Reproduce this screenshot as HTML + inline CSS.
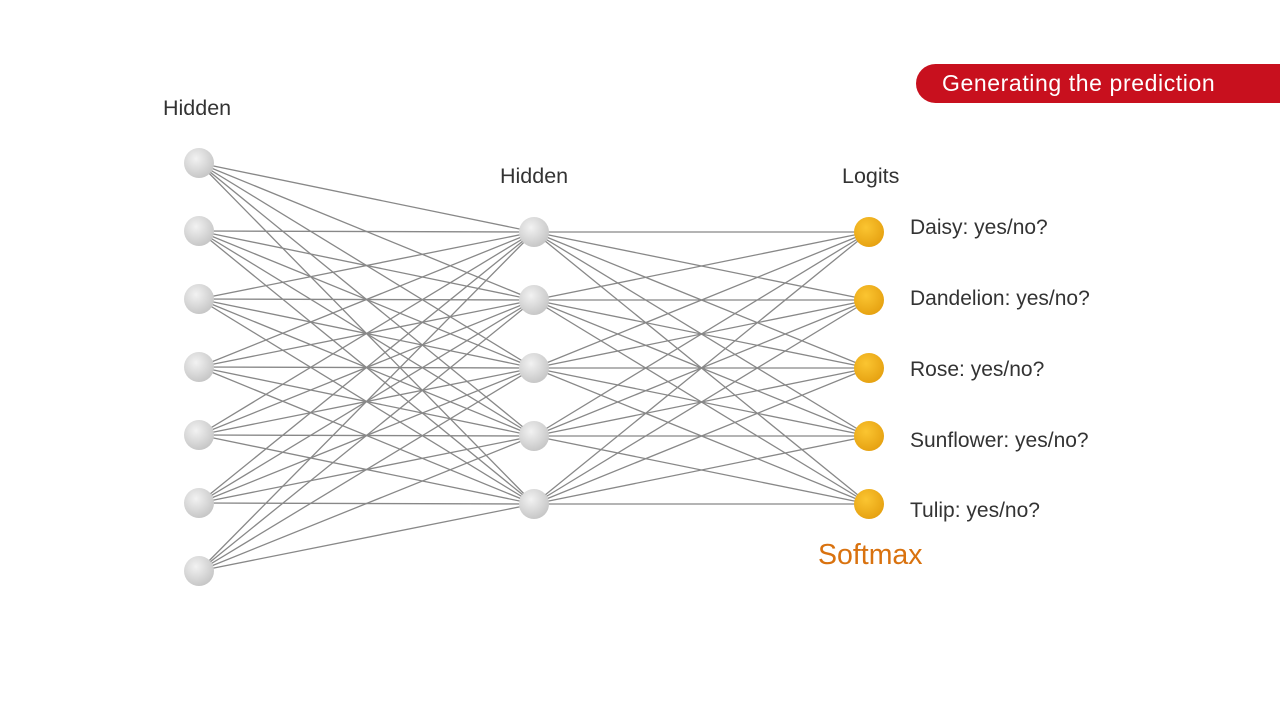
<!DOCTYPE html>
<html><head><meta charset="utf-8"><style>
html,body{margin:0;padding:0;background:#fff;width:1280px;height:720px;overflow:hidden}
body{font-family:"Liberation Sans",sans-serif;position:relative}
.t{position:absolute;color:#333;font-size:21px;white-space:nowrap}
.banner{position:absolute;left:916px;top:64px;width:364px;height:39px;background:#c8101e;border-radius:20px 0 0 20px;color:#fff;font-size:23px;letter-spacing:0.6px;line-height:39px;padding-left:26px;box-sizing:border-box;white-space:nowrap}
</style></head><body>
<svg id="s" width="1280" height="720" style="position:absolute;left:0;top:0">
<defs>
<radialGradient id="g" cx="40%" cy="35%" r="70%"><stop offset="0" stop-color="#f2f2f2"/><stop offset="1" stop-color="#c4c4c4"/></radialGradient>
<radialGradient id="y" cx="40%" cy="35%" r="70%"><stop offset="0" stop-color="#fbc531"/><stop offset="1" stop-color="#e5a010"/></radialGradient>
</defs>
<g id="lines" stroke="#888" stroke-width="1.3"></g>
<g id="nodes"></g>
</svg>
<div class="t" style="left:163px;top:96px;font-size:21.5px">Hidden</div>
<div class="t" style="left:500px;top:164px;font-size:21.5px">Hidden</div>
<div class="t" style="left:842px;top:164px;font-size:21.5px">Logits</div>
<div class="t" style="left:910px;top:216px">Daisy: yes/no?</div>
<div class="t" style="left:910px;top:287px">Dandelion: yes/no?</div>
<div class="t" style="left:910px;top:358px">Rose: yes/no?</div>
<div class="t" style="left:910px;top:429px">Sunflower: yes/no?</div>
<div class="t" style="left:910px;top:499px">Tulip: yes/no?</div>
<div class="t" style="left:818px;top:539px;font-size:28.5px;color:#d9720f">Softmax</div>
<div class="banner">Generating the prediction</div>
<script>
var L=[163,231,299,367,435,503,571].map(function(y){return[199,y]});
var M=[232,300,368,436,504].map(function(y){return[534,y]});
var R=[232,300,368,436,504].map(function(y){return[869,y]});
var ns="http://www.w3.org/2000/svg",lg=document.getElementById('lines'),ng=document.getElementById('nodes');
function line(a,b){var l=document.createElementNS(ns,'line');l.setAttribute('x1',a[0]);l.setAttribute('y1',a[1]);l.setAttribute('x2',b[0]);l.setAttribute('y2',b[1]);lg.appendChild(l);}
L.forEach(function(a){M.forEach(function(b){line(a,b)})});
M.forEach(function(a){R.forEach(function(b){line(a,b)})});
function node(p,f){var c=document.createElementNS(ns,'circle');c.setAttribute('cx',p[0]);c.setAttribute('cy',p[1]);c.setAttribute('r',15);c.setAttribute('fill',f);ng.appendChild(c);}
L.concat(M).forEach(function(p){node(p,'url(#g)')});
R.forEach(function(p){node(p,'url(#y)')});
</script>
</body></html>
